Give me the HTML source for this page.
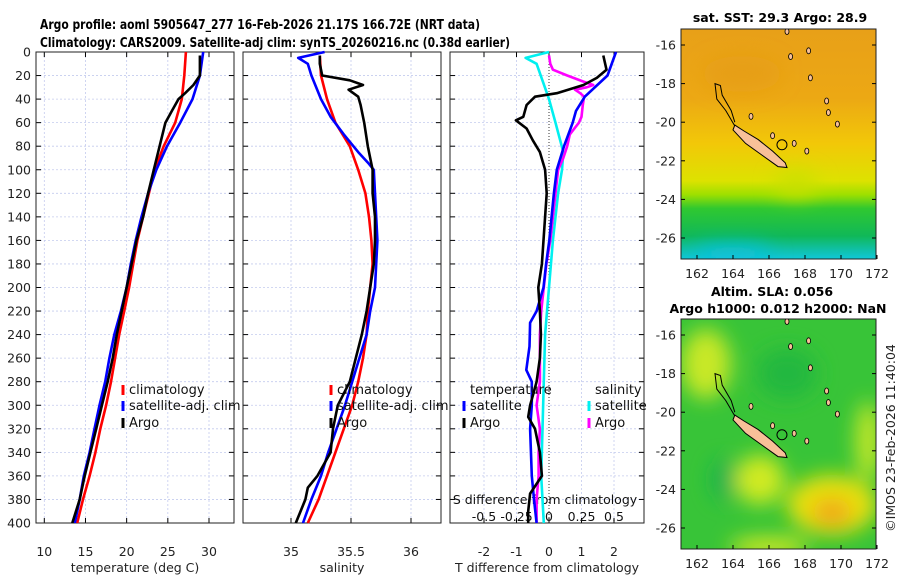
<!DOCTYPE html>
<html><head><meta charset="utf-8"><style>
html,body{margin:0;padding:0;background:#fff;}
svg{display:block;font-family:"DejaVu Sans","Liberation Sans",sans-serif;}
</style></head><body>
<svg id="c" width="900" height="580" viewBox="0 0 900 580">
<defs>
<clipPath id="m1c"><rect x="681" y="29" width="195" height="230"/></clipPath>
<clipPath id="m2c"><rect x="681" y="319" width="195" height="230"/></clipPath>
<filter id="bl" x="-50%" y="-50%" width="200%" height="200%"><feGaussianBlur stdDeviation="10"/></filter>
<linearGradient id="sstg" x1="0" y1="0" x2="0" y2="1">
<stop offset="0" stop-color="#e8a018"/><stop offset="0.3" stop-color="#eca814"/>
<stop offset="0.5" stop-color="#f2c808"/><stop offset="0.66" stop-color="#dde200"/>
<stop offset="0.72" stop-color="#9ee000"/><stop offset="0.78" stop-color="#30c830"/>
<stop offset="0.9" stop-color="#10b858"/><stop offset="0.96" stop-color="#10c0a8"/><stop offset="1" stop-color="#10c8d8"/>
</linearGradient>
</defs>
</svg>
<script>
// ---------- data ----------
const tDepths = [0,20,40,60,80,100,120,140,160,180,200,220,240,260,280,300,320,340,360,380,400];
const tClim = [27.2,27.0,26.7,25.9,24.5,23.4,22.7,22.0,21.3,20.8,20.3,19.7,19.1,18.6,18.1,17.5,16.8,16.2,15.5,14.7,14.0];
const tSat  = [29.3,28.9,28.0,26.5,24.9,23.6,22.6,21.8,21.1,20.5,20.0,19.3,18.5,17.9,17.4,16.7,16.1,15.5,14.8,14.3,13.7];
const argoTDepths = [3,20,28,35,40,50,60,80,100,120,140,160,180,200,220,240,260,280,300,320,340,360,380,400];
const tArgo = [28.9,28.9,28.1,27.1,26.3,25.5,24.7,24.0,23.3,22.6,22.0,21.2,20.6,20.0,19.4,18.8,18.3,17.7,17.0,16.3,15.6,14.9,14.3,13.4];

const sClimDepths = [3,20,40,60,80,100,120,140,160,180,200,220,240,260,280,300,320,340,360,380,400];
const sClim = [35.24,35.25,35.30,35.37,35.49,35.56,35.62,35.65,35.67,35.68,35.66,35.64,35.63,35.60,35.56,35.51,35.44,35.37,35.30,35.23,35.14];
const sSatDepths = [0,5,10,20,40,55,70,85,95,100,120,140,160,180,200,220,240,260,280,300,320,340,360,380,400];
const sSat = [35.28,35.06,35.14,35.17,35.25,35.33,35.44,35.56,35.65,35.69,35.70,35.71,35.72,35.71,35.70,35.66,35.63,35.57,35.51,35.45,35.38,35.31,35.25,35.17,35.10];
const sArgoDepths = [3,10,20,24,28,32,38,45,60,80,100,120,140,160,180,200,220,240,260,280,300,320,340,360,370,380,400];
const sArgo = [35.24,35.24,35.26,35.49,35.60,35.48,35.56,35.58,35.61,35.64,35.68,35.68,35.70,35.70,35.69,35.66,35.63,35.59,35.54,35.49,35.39,35.35,35.33,35.22,35.14,35.12,35.04];

const dTSatDepths = [0,20,38,50,60,80,100,120,140,160,180,200,220,230,250,270,280,300,320,360,380,400];
const dTSat = [2.06,1.8,1.1,0.83,0.73,0.46,0.24,0.15,0.08,0.01,-0.09,-0.17,-0.38,-0.58,-0.6,-0.7,-0.53,-0.53,-0.58,-0.53,-0.46,-0.38];
const dTArgoDepths = [3,15,22,28,35,38,45,55,58,65,75,85,100,120,140,160,180,200,220,240,260,280,290,300,310,320,340,360,375,390,400];
const dTArgo = [1.67,1.77,1.47,1.06,0.24,-0.43,-0.69,-0.79,-1.02,-0.69,-0.5,-0.28,-0.12,-0.07,-0.12,-0.17,-0.22,-0.33,-0.28,-0.25,-0.28,-0.38,-0.48,-0.58,-0.64,-0.43,-0.28,-0.22,-0.58,-0.64,-0.64];
const dSSatDepths = [0,5,10,40,60,85,100,120,160,200,240,280,320,360,400];
const dSSat = [0,-0.18,-0.095,0,0.05,0.11,0.1,0.07,0.03,0,-0.03,-0.04,-0.05,-0.06,-0.04];
const dSArgoDepths = [3,10,15,20,25,28,30,32,35,38,45,55,60,70,80,90,100,120,140,160,180,200,220,240,260,280,300,320,340,360,380,400];
const dSArgo = [0,0.01,0.03,0.14,0.26,0.34,0.29,0.2,0.24,0.27,0.26,0.25,0.23,0.16,0.14,0.11,0.07,0.05,0.03,0.01,-0.02,-0.04,-0.06,-0.07,-0.07,-0.07,-0.095,-0.07,-0.08,-0.08,-0.095,-0.095];

const depthTicks = [0,20,40,60,80,100,120,140,160,180,200,220,240,260,280,300,320,340,360,380,400];
const tTicks = [10,15,20,25,30];
const sTicks = [35,35.5,36];
const dTTicks = [-2,-1,0,1,2];
const dSTickLabels = ['-0.5','-0.25','0','0.25','0.5'];
const dSTicks = [-0.5,-0.25,0,0.25,0.5];
const latTicks = [-16,-18,-20,-22,-24,-26];
const lonTicks = [162,164,166,168,170,172];

// ---------- scales ----------
const Y0=52, Y1=523;
const yD = d => Y0 + d*(Y1-Y0)/400;
const xT = t => 44.3 + (t-10)*8.235;
const xS = s => 291 + (s-35)*120;
const xDT = v => 549 + v*32.5;
const xDS = v => 549 + v*130;
const mLon = l => 697 + (l-162)*18;
const m1Lat = l => 45 + (-16-l)*19.3;
const m2Lat = l => 335 + (-16-l)*19.3;

const svg = document.getElementById('c');
const NS = 'http://www.w3.org/2000/svg';
function mk(tag, attrs, parent){
  const e = document.createElementNS(NS, tag);
  for (const k in attrs) e.setAttribute(k, attrs[k]);
  (parent||svg).appendChild(e);
  return e;
}
function txt(x,y,s,opts,parent){
  const e = mk('text', Object.assign({x:x,y:y,'font-size':12.5,fill:'#222'},opts||{}), parent);
  e.textContent = s;
  return e;
}

// ---------- titles ----------
let t1 = txt(40,29,'Argo profile: aoml 5905647_277 16-Feb-2026 21.17S 166.72E (NRT data)',{'font-weight':'bold',fill:'#000','font-size':13,textLength:440,lengthAdjust:'spacingAndGlyphs'});


let t2 = txt(40,47,'Climatology: CARS2009. Satellite-adj clim: synTS_20260216.nc (0.38d earlier)',{'font-weight':'bold',fill:'#000','font-size':13,textLength:470,lengthAdjust:'spacingAndGlyphs'});



// ---------- panels ----------
const panels = [
  {x0:36,x1:234,name:'temperature-panel',ticks:tTicks,sc:xT,lab:t=>String(t),title:'temperature (deg C)'},
  {x0:243,x1:441,name:'salinity-panel',ticks:sTicks,sc:xS,lab:t=>String(t),title:'salinity'},
  {x0:450,x1:644,name:'difference-panel',ticks:dTTicks,sc:xDT,lab:t=>String(t),title:'T difference from climatology'}
];
panels.forEach((p,pi)=>{
  const g = mk('g',{});
  
  
  depthTicks.forEach(d=>{
    mk('line',{x1:p.x0,x2:p.x1,y1:yD(d),y2:yD(d),stroke:'#c4cbee','stroke-width':0.8,'stroke-dasharray':'2,2'},g);
    mk('line',{x1:p.x0,x2:p.x0+5,y1:yD(d),y2:yD(d),stroke:'#000'},g);
    mk('line',{x1:p.x1-5,x2:p.x1,y1:yD(d),y2:yD(d),stroke:'#000'},g);
  });
  p.ticks.forEach(t=>{
    const x = p.sc(t);
    if (pi===2 && t===0) {
      mk('line',{x1:x,x2:x,y1:Y0,y2:Y1,stroke:'#333','stroke-width':1,'stroke-dasharray':'1,2'},g);
    } else {
      mk('line',{x1:x,x2:x,y1:Y0,y2:Y1,stroke:'#c4cbee','stroke-width':0.8,'stroke-dasharray':'2,2'},g);
    }
    mk('line',{x1:x,x2:x,y1:Y1-5,y2:Y1,stroke:'#000'},g);
    mk('line',{x1:x,x2:x,y1:Y0,y2:Y0+5,stroke:'#000'},g);
    const tl = txt(x,556,p.lab(t),{'text-anchor':'middle','font-size':12.5},g);
    
    
  });
  mk('rect',{x:p.x0,y:Y0,width:p.x1-p.x0,height:Y1-Y0,fill:'none',stroke:'#222','stroke-width':1},g);
  const at = txt((p.x0+p.x1)/2,572,p.title,{'text-anchor':'middle','font-size':12.5},g);
  
  
});
depthTicks.forEach(d=>{
  const l = txt(31,yD(d)+4.5,String(d),{'text-anchor':'end','font-size':12.5});
  
  
});
const sdt = txt(545,504,'S difference from climatology',{'text-anchor':'middle','font-size':12.5,fill:'#111'});


dSTicks.forEach((v,i)=>{
  const l = txt(xDS(v),521,dSTickLabels[i],{'text-anchor':'middle','font-size':12.5,fill:'#111'});
  
  
});

// ---------- lines ----------
function line(depths, vals, sc, color, name){
  const pts = depths.map((d,i)=>sc(vals[i]).toFixed(1)+','+yD(d).toFixed(1)).join(' ');
  const e = mk('polyline',{points:pts,fill:'none',stroke:color,'stroke-width':2.6,'stroke-linejoin':'round'});
  
  
}
line(tDepths,tClim,xT,'#f00','temperature-climatology-line');
line(tDepths,tSat,xT,'#0000ff','temperature-satellite-line');
line(argoTDepths,tArgo,xT,'#000','temperature-argo-line');
line(sClimDepths,sClim,xS,'#f00','salinity-climatology-line');
line(sSatDepths,sSat,xS,'#0000ff','salinity-satellite-line');
line(sArgoDepths,sArgo,xS,'#000','salinity-argo-line');
line(dSSatDepths,dSSat,xDS,'#00f0f0','salinity-satellite-difference-line');
line(dSArgoDepths,dSArgo,xDS,'#ff00ff','salinity-argo-difference-line');
line(dTSatDepths,dTSat,xDT,'#0000ff','temperature-satellite-difference-line');
line(dTArgoDepths,dTArgo,xDT,'#000','temperature-argo-difference-line');

// ---------- legends ----------
function legEntry(mx,y,color,label,name){
  const g = mk('g',{});
  
  
  if(color) mk('rect',{x:mx-1.5,y:y-9,width:3,height:10,fill:color},g);
  txt(mx+6,y,label,{'font-size':13,fill:'#111'},g);
}
legEntry(123,394,'#f00','climatology','legend-entry-climatology');
legEntry(123,410,'#0000ff','satellite-adj. clim','legend-entry-satellite');
legEntry(123,427,'#000','Argo','legend-entry-argo');
legEntry(331,394,'#f00','climatology','legend-entry-climatology-salinity');
legEntry(331,410,'#0000ff','satellite-adj. clim','legend-entry-satellite-salinity');
legEntry(331,427,'#000','Argo','legend-entry-argo-salinity');
legEntry(464,394,null,'temperature','legend-header-temperature');
legEntry(464,410,'#0000ff','satellite','legend-entry-temperature-satellite');
legEntry(464,427,'#000','Argo','legend-entry-temperature-argo');
legEntry(589,394,null,'salinity','legend-header-salinity');
legEntry(589,410,'#00f0f0','satellite','legend-entry-salinity-satellite');
legEntry(589,427,'#ff00ff','Argo','legend-entry-salinity-argo');

// ---------- maps ----------
const island = [[164.1,-20.15],[164.6,-20.45],[165.4,-20.9],[166.2,-21.5],[166.9,-22.1],[167.0,-22.35],[166.5,-22.3],[165.6,-21.7],[164.7,-21.1],[164.0,-20.4]];
const smallIslands = [[167.0,-15.3],[167.2,-16.6],[168.2,-16.3],[168.3,-17.7],[169.2,-18.9],[169.3,-19.5],[168.1,-21.5],[167.4,-21.1],[166.2,-20.7],[165.0,-19.7],[169.8,-20.1]];
function drawMap(top, latF, clip, name, kind){
  const g = mk('g',{'clip-path':'url(#'+clip+')'});
  
  
  if(kind==='sst'){
    mk('rect',{x:681,y:top,width:195,height:230,fill:'url(#sstg)'},g);
    const b = mk('g',{filter:'url(#bl)'},g);
    mk('ellipse',{cx:mLon(167.5),cy:latF(-23.2),rx:22,ry:12,fill:'#c8e000'},b);
    mk('ellipse',{cx:mLon(164.5),cy:latF(-17.5),rx:40,ry:18,fill:'#e49818',opacity:0.5},b);
    mk('ellipse',{cx:mLon(164),cy:latF(-26.8),rx:40,ry:8,fill:'#10c0e0'},b);
  } else {
    mk('rect',{x:681,y:top,width:195,height:230,fill:'#38c438'},g);
    const b = mk('g',{filter:'url(#bl)'},g);
    mk('ellipse',{cx:mLon(162.5),cy:latF(-17.5),rx:25,ry:35,fill:'#c8e828'},b);
    mk('ellipse',{cx:mLon(165.5),cy:latF(-23.5),rx:25,ry:25,fill:'#d0ea20'},b);
    mk('ellipse',{cx:mLon(169.5),cy:latF(-24.8),rx:45,ry:30,fill:'#e8e010'},b);
    mk('ellipse',{cx:mLon(169.5),cy:latF(-25.2),rx:20,ry:14,fill:'#f0a818'},b);
    mk('ellipse',{cx:mLon(171.5),cy:latF(-21.5),rx:12,ry:40,fill:'#c8e828'},b);
    mk('ellipse',{cx:mLon(163.5),cy:latF(-23.5),rx:12,ry:20,fill:'#18b050'},b);
    mk('ellipse',{cx:mLon(166),cy:latF(-27),rx:40,ry:10,fill:'#d8ea20'},b);
    mk('ellipse',{cx:mLon(167),cy:latF(-18),rx:30,ry:25,fill:'#22b840'},b);
  }
  mk('polygon',{points:island.map(p=>mLon(p[0])+','+latF(p[1])).join(' '),fill:'#f8c098',stroke:'#000','stroke-width':1},g);
  mk('polyline',{points:[[164.1,-20.2],[163.6,-19.4],[163.1,-18.8],[163.0,-18.0],[163.3,-18.1],[163.4,-18.6],[163.9,-19.4],[164.1,-20.0]].map(p=>mLon(p[0])+','+latF(p[1])).join(' '),fill:'none',stroke:'#000','stroke-width':1},g);
  smallIslands.forEach(p=>{
    mk('ellipse',{cx:mLon(p[0]),cy:latF(p[1]),rx:2,ry:3,fill:'#f8c098',stroke:'#000','stroke-width':0.8},g);
  });
  const c = mk('circle',{cx:mLon(166.72),cy:latF(-21.17),r:5,fill:'none',stroke:'#000','stroke-width':1},g);
  
  
  mk('rect',{x:681,y:top,width:195,height:230,fill:'none',stroke:'#222','stroke-width':1});
  latTicks.forEach(l=>{
    mk('line',{x1:681,x2:685,y1:latF(l),y2:latF(l),stroke:'#000'});
    mk('line',{x1:872,x2:876,y1:latF(l),y2:latF(l),stroke:'#000'});
    const t = txt(676,latF(l)+4.5,String(l),{'text-anchor':'end','font-size':12.5});
    
    
  });
  lonTicks.forEach(l=>{
    mk('line',{x1:mLon(l),x2:mLon(l),y1:top+226,y2:top+230,stroke:'#000'});
    const t = txt(mLon(l),top+249,String(l),{'text-anchor':'middle','font-size':12.5});
    
    
  });
}
drawMap(29,m1Lat,'m1c','sst-map','sst');
drawMap(319,m2Lat,'m2c','sla-map','sla');
let mt1 = txt(780,22,'sat. SST: 29.3 Argo: 28.9',{'text-anchor':'middle','font-weight':'bold','font-size':12.5,fill:'#000'});


let mt2 = txt(772,296,'Altim. SLA: 0.056',{'text-anchor':'middle','font-weight':'bold','font-size':12.5,fill:'#000'});


let mt3 = txt(778,313,'Argo h1000: 0.012 h2000: NaN',{'text-anchor':'middle','font-weight':'bold','font-size':12.5,fill:'#000'});


let cr = txt(0,0,'©IMOS 23-Feb-2026 11:40:04',{'text-anchor':'middle','font-size':12.5,transform:'translate(895,438) rotate(-90)'});


</script>
</body></html>
